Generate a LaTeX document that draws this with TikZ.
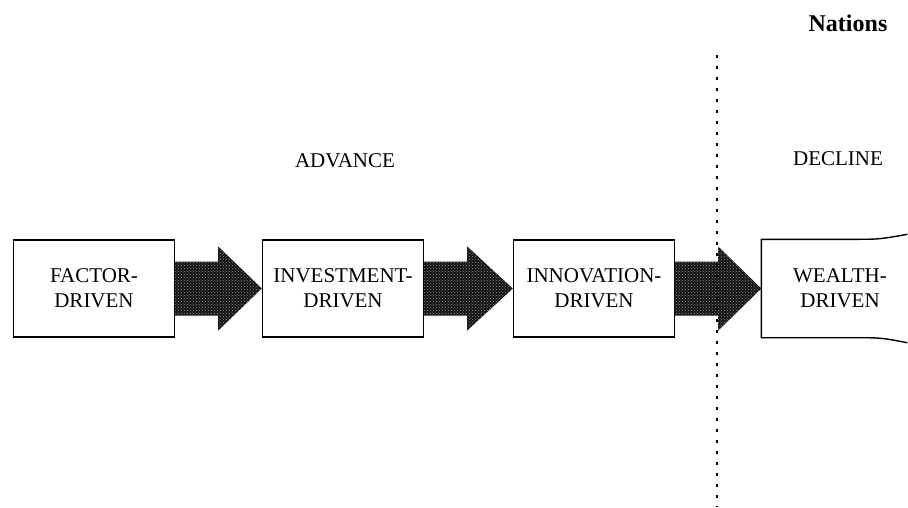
\documentclass[tikz,border=0pt]{standalone}
\usepackage{fontspec}
\setmainfont{Liberation Serif}
\usepackage{tikz}
\usetikzlibrary{calc, patterns}

\begin{document}
\begin{tikzpicture}[x=1pt, y=-1pt,
  stage/.style={draw=black, line width=1.4pt, minimum width=161pt, minimum height=97pt, align=center, font=\fontsize{21}{25}\selectfont, inner sep=0pt},
  label/.style={font=\fontsize{21}{25}\selectfont, inner sep=0pt},
  blockfill/.style={fill=black!92},
]
  \useasboundingbox (0,0) rectangle (908,507);

  % Stages
  \node[stage] (factor) at (94, 288.5) {FACTOR-\\DRIVEN};
  \node[stage] (invest) at (343, 288.5) {INVESTMENT-\\DRIVEN};
  \node[stage] (innov) at (594, 288.5) {INNOVATION-\\DRIVEN};
  \node[stage, draw=none, minimum width=156pt] (wealth) at (840, 288.5) {WEALTH-\\DRIVEN};
  \draw[line width=1.4pt] ($(wealth.north west)+(146,-5)$) .. controls ($(wealth.north west)+(118,0)$) .. ($(wealth.north west)+(92,0)$)
    -- (wealth.north west) -- (wealth.south west) -- ($(wealth.south west)+(92,0)$)
    .. controls ($(wealth.south west)+(120,0)$) .. ($(wealth.south west)+(146,5)$);

  % Block arrows
  \foreach \a/\b in {factor/invest, invest/innov, innov/wealth} {
    \path[blockfill] ($(\a.east)+(0,-27)$) -- ($(\a.east)+(43,-27)$) -- ($(\a.east)+(43,-42)$)
      -- (\b.west) -- ($(\a.east)+(43,42)$) -- ($(\a.east)+(43,27)$) -- ($(\a.east)+(0,27)$) -- cycle;
    \path[pattern=crosshatch dots, pattern color=black!45] ($(\a.east)+(0,-27)$) -- ($(\a.east)+(43,-27)$) -- ($(\a.east)+(43,-42)$)
      -- (\b.west) -- ($(\a.east)+(43,42)$) -- ($(\a.east)+(43,27)$) -- ($(\a.east)+(0,27)$) -- cycle;
  }

  % Divider
  \coordinate (divtop) at (717, 55);
  \coordinate (divbot) at (717, 507);
  \draw[line width=2.6pt, dash pattern=on 3pt off 8pt] (divtop) -- (divbot);

  % Headings
  \node[label] (advance) at (345, 161) {ADVANCE};
  \node[label] (decline) at (838, 159) {DECLINE};
  \node[label, font=\fontsize{24}{28}\selectfont\bfseries] (nations) at (848, 23) {Nations};
\end{tikzpicture}
\end{document}
